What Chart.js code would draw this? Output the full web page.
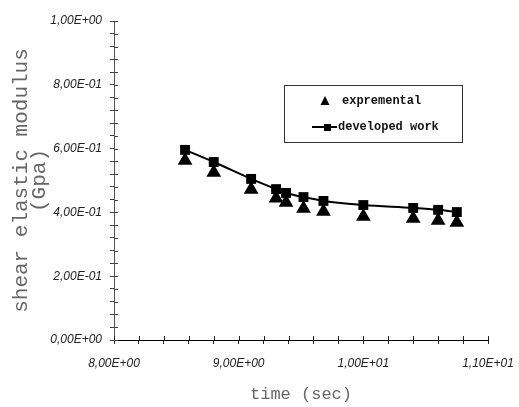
<!DOCTYPE html>
<html>
<head>
<meta charset="utf-8">
<style>
  html, body { margin: 0; padding: 0; background: #fff; }
  #wrap { width: 519px; height: 407px; }
</style>
<script src="https://cdn.jsdelivr.net/npm/chart.js@4/dist/chart.umd.min.js"></script>
</head>
<body>
<div id="wrap"><canvas id="c" width="519" height="407"></canvas></div>
<script>
// ---- data ----
const timeSec = [8.57, 8.8, 9.1, 9.3, 9.38, 9.52, 9.68, 10.0, 10.4, 10.6, 10.75];
const experimental = [0.563, 0.525, 0.472, 0.444, 0.431, 0.412, 0.403, 0.387, 0.381, 0.375, 0.368];
const developedWork = [0.596, 0.558, 0.505, 0.473, 0.461, 0.448, 0.436, 0.423, 0.414, 0.408, 0.401];
const seriesNames = ['expremental', 'developed work'];
const xTitle = 'time (sec)';
const yTitle = ['shear elastic modulus', '(Gpa)'];
const xRange = [8, 11];
const yRange = [0, 1];

function fmtSci(v) {
  let s = Number(v).toExponential(2);
  let [m, e] = s.split('e');
  let sign = e[0] === '-' ? '-' : '+';
  let d = e.replace(/[+-]/, '');
  if (d.length < 2) d = '0' + d;
  return m.replace('.', ',') + 'E' + sign + d;
}
function isMult(v, step) {
  const r = v / step;
  return Math.abs(r - Math.round(r)) < 1e-6;
}

const monoFont = 'Liberation Mono';
const tickFont = { family: 'Liberation Sans', size: 12, style: 'italic' };

const innerTicks = {
  id: 'innerTicks',
  afterDraw(chart) {
    const ctx = chart.ctx;
    const xs = chart.scales.x, ys = chart.scales.y;
    ctx.save();
    ctx.lineWidth = 1;
    ctx.strokeStyle = '#222';
    xs.ticks.forEach(t => {
      const p = Math.round(xs.getPixelForValue(t.value)) + 0.5;
      ctx.beginPath(); ctx.moveTo(p, xs.top); ctx.lineTo(p, xs.top - 4); ctx.stroke();
    });
    ctx.strokeStyle = '#444';
    ys.ticks.forEach(t => {
      const p = Math.round(ys.getPixelForValue(t.value)) + 0.5;
      ctx.beginPath(); ctx.moveTo(ys.right, p); ctx.lineTo(ys.right + 4, p); ctx.stroke();
    });
    ctx.restore();
  }
};

const boxLegend = {
  id: 'boxLegend',
  afterDraw(chart) {
    const ctx = chart.ctx;
    ctx.save();
    ctx.strokeStyle = '#333';
    ctx.lineWidth = 1;
    ctx.strokeRect(284.5, 85.5, 178, 57);
    ctx.fillStyle = '#000';
    // triangle
    ctx.beginPath();
    ctx.moveTo(325, 96); ctx.lineTo(329.5, 105); ctx.lineTo(320.5, 105); ctx.closePath(); ctx.fill();
    // line + square
    ctx.strokeStyle = '#000';
    ctx.lineWidth = 2;
    ctx.beginPath(); ctx.moveTo(312, 127); ctx.lineTo(337, 127); ctx.stroke();
    ctx.fillRect(324, 124, 7, 7);
    ctx.font = 'bold 12px "Liberation Mono"';
    ctx.fillStyle = '#111';
    ctx.textBaseline = 'middle';
    ctx.textAlign = 'left';
    ctx.fillText(seriesNames[0], 342, 101);
    ctx.fillText(seriesNames[1], 338, 127);
    ctx.restore();
  }
};

new Chart(document.getElementById('c'), {
  type: 'scatter',
  data: {
    datasets: [
      {
        label: seriesNames[0],
        data: timeSec.map((x, i) => ({ x, y: experimental[i] })),
        pointStyle: 'triangle',
        pointRadius: 8.5,
        pointHoverRadius: 8.5,
        backgroundColor: '#000',
        borderColor: '#000',
        pointBorderWidth: 0,
        showLine: false
      },
      {
        label: seriesNames[1],
        data: timeSec.map((x, i) => ({ x, y: developedWork[i] })),
        pointStyle: 'rect',
        pointRadius: 7,
        pointHoverRadius: 7,
        backgroundColor: '#000',
        borderColor: '#000',
        pointBorderWidth: 0,
        borderWidth: 2,
        showLine: true,
        tension: 0.4,
        cubicInterpolationMode: 'monotone'
      }
    ]
  },
  options: {
    responsive: false,
    animation: false,
    events: [],
    layout: { padding: { top: 21, right: 31, left: 0, bottom: 0 } },
    plugins: { legend: { display: false }, tooltip: { enabled: false } },
    scales: {
      x: {
        type: 'linear',
        min: xRange[0], max: xRange[1],
        afterFit(s) { s.height = 67; s.paddingLeft = 0; s.paddingRight = 0; },
        ticks: {
          stepSize: 0.2, autoSkip: false, maxRotation: 0, padding: 12,
          color: '#222', font: tickFont,
          callback: v => isMult(v, 1) ? fmtSci(v) : ''
        },
        grid: { drawOnChartArea: false, drawTicks: true, tickLength: 4, tickColor: '#222' },
        border: { display: true, color: '#000', width: 1 },
        title: {
          display: true, text: xTitle, color: '#666',
          font: { family: monoFont, size: 17 }, padding: { top: 0, bottom: 2 }
        }
      },
      y: {
        type: 'linear',
        min: yRange[0], max: yRange[1],
        afterFit(s) { s.width = 114; },
        ticks: {
          stepSize: 0.04, autoSkip: false, padding: 8,
          color: '#222', font: tickFont,
          callback: v => isMult(v, 0.2) ? fmtSci(v) : ''
        },
        grid: { drawOnChartArea: false, drawTicks: true, tickLength: 4, tickColor: '#444' },
        border: { display: true, color: '#555', width: 1 },
        title: {
          display: true, text: yTitle, color: '#666',
          font: { family: monoFont, size: 21, lineHeight: 0.88 }, padding: { top: 12, bottom: 0 }
        }
      }
    }
  },
  plugins: [innerTicks, boxLegend]
});
</script>
</body>
</html>
